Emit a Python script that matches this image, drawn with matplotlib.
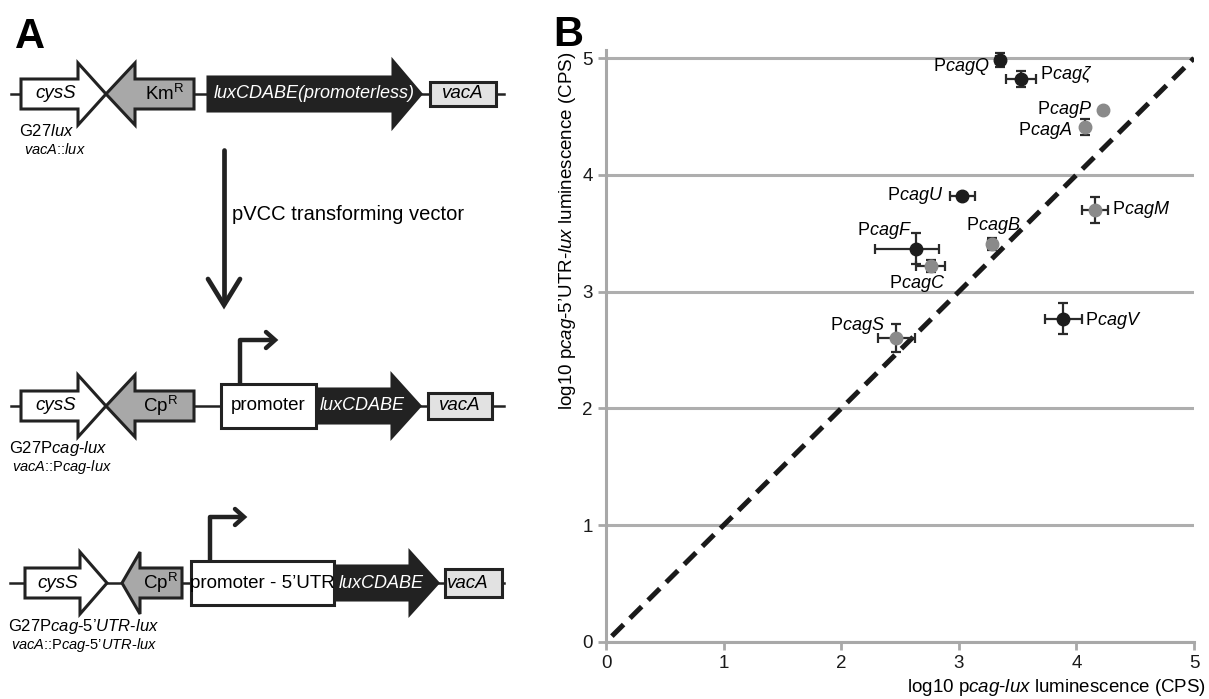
import matplotlib
matplotlib.use("Agg")
import matplotlib.pyplot as plt
from matplotlib.patches import Polygon, Rectangle

plt.rcParams["font.family"] = ["Liberation Sans", "DejaVu Sans"]
plt.rcParams["mathtext.fontset"] = "custom"
plt.rcParams["mathtext.rm"] = "Liberation Sans"
plt.rcParams["mathtext.it"] = "Liberation Sans:italic"
plt.rcParams["mathtext.bf"] = "Liberation Sans:bold"

# Panel B data: log10 luminescence (CPS)
promoters = ["cagQ", "cagζ", "cagP", "cagA", "cagU", "cagM", "cagB", "cagF", "cagC", "cagS", "cagV"]
lux_cps = [3.35, 3.53, 4.23, 4.07, 3.03, 4.16, 3.28, 2.64, 2.76, 2.47, 3.89]
utr_cps = [4.985, 4.82, 4.56, 4.41, 3.82, 3.70, 3.41, 3.37, 3.22, 2.60, 2.77]
lux_err_lo = [0.03, 0.125, 0.0, 0.0, 0.105, 0.11, 0.03, 0.35, 0.12, 0.16, 0.16]
lux_err_hi = [0.03, 0.125, 0.0, 0.0, 0.105, 0.11, 0.03, 0.195, 0.12, 0.16, 0.16]
utr_err = [0.06, 0.07, 0.0, 0.07, 0.02, 0.115, 0.05, 0.13, 0.05, 0.12, 0.13]
group = ["dark", "dark", "light", "light", "dark", "light", "light", "dark", "light", "light", "dark"]
diag = [0.05, 5.0]
ticks = [0, 1, 2, 3, 4, 5]

W, H = 1209, 699
fig = plt.figure(figsize=(W / 100, H / 100), dpi=100)

# ---------------- panel A (schematic, pixel coordinates) ----------------
axa = fig.add_axes([0, 0, 580 / W, 1])
axa.set_xlim(0, 580)
axa.set_ylim(H, 0)
axa.axis("off")

EDGE = "#222222"
LW = 2.2


def right_arrow(x0, xb, xt, yc, color, shaft=15, head=31):
    pts = [(x0, yc - shaft), (xb, yc - shaft), (xb, yc - head), (xt, yc),
           (xb, yc + head), (xb, yc + shaft), (x0, yc + shaft)]
    axa.add_patch(Polygon(pts, closed=True, fc=color, ec=EDGE, lw=LW, joinstyle="miter", zorder=3))


def left_arrow(xt, xb, x1, yc, color, shaft=15, head=31):
    pts = [(x1, yc - shaft), (xb, yc - shaft), (xb, yc - head), (xt, yc),
           (xb, yc + head), (xb, yc + shaft), (x1, yc + shaft)]
    axa.add_patch(Polygon(pts, closed=True, fc=color, ec=EDGE, lw=LW, joinstyle="miter", zorder=3))


def box(x0, x1, yc, half, color):
    axa.add_patch(Rectangle((x0, yc - half), x1 - x0, 2 * half, fc=color, ec=EDGE, lw=LW, zorder=3))


def bent(x, ybox, ytop, x2):
    axa.plot([x, x, x2 - 2], [ybox, ytop, ytop], color=EDGE, lw=3.2, solid_joinstyle="round",
             solid_capstyle="butt", zorder=4)
    axa.plot([x2 - 9, x2, x2 - 9], [ytop - 8, ytop, ytop + 8], color=EDGE, lw=3.2,
             solid_joinstyle="miter", solid_capstyle="round", zorder=4)


GFS = 13.5
LFS = 13
SUB1 = 12
SUB2 = 10.5
# row 1
y1 = 94
axa.plot([11, 504], [y1, y1], color=EDGE, lw=1.8, zorder=1)
right_arrow(21, 78, 106, y1, "white")
left_arrow(106, 135, 194, y1, "#a8a8a8")
right_arrow(208, 393, 421, y1, "#222222", shaft=17, head=33)
box(430, 496, y1, 12, "#e2e2e2")
axa.text(56, y1, "cysS", style="italic", fontsize=GFS, ha="center", va="center", zorder=5)
axa.text(165, y1, r"Km$^{\mathrm{R}}$", fontsize=GFS, ha="center", va="center", zorder=5)
axa.text(314, y1, "luxCDABE(promoterless)", style="italic", color="white", fontsize=LFS,
         ha="center", va="center", zorder=5)
axa.text(463, y1, "vacA", style="italic", fontsize=GFS, ha="center", va="center", zorder=5)
axa.text(19, 131, r"G27$\mathit{lux}$", fontsize=SUB1, ha="left", va="center")
axa.text(24, 149, r"$\mathit{vacA}$::$\mathit{lux}$", fontsize=SUB2, ha="left", va="center")

# transformation arrow
axa.plot([224, 224], [150, 303], color=EDGE, lw=3.4, solid_capstyle="round")
axa.plot([208, 224, 240], [279, 305, 279], color=EDGE, lw=3.4,
         solid_capstyle="round", solid_joinstyle="miter")
axa.text(232, 215, "pVCC transforming vector", fontsize=14.5, ha="left", va="center")

# row 2
y2 = 406
axa.plot([11, 504], [y2, y2], color=EDGE, lw=1.8, zorder=1)
right_arrow(21, 78, 106, y2, "white")
left_arrow(106, 135, 194, y2, "#a8a8a8")
box(221, 316, y2, 22, "white")
bent(240, y2 - 22, 340, 275)
right_arrow(318, 392, 420, y2, "#222222", shaft=17)
box(428, 492, y2, 13, "#e2e2e2")
axa.text(56, y2, "cysS", style="italic", fontsize=GFS, ha="center", va="center", zorder=5)
axa.text(161, y2, r"Cp$^{\mathrm{R}}$", fontsize=GFS, ha="center", va="center", zorder=5)
axa.text(268, y2, "promoter", fontsize=GFS, ha="center", va="center", zorder=5)
axa.text(362, y2, "luxCDABE", style="italic", color="white", fontsize=LFS,
         ha="center", va="center", zorder=5)
axa.text(460, y2, "vacA", style="italic", fontsize=GFS, ha="center", va="center", zorder=5)
axa.text(9, 449, r"G27P$\mathit{cag}$-$\mathit{lux}$", fontsize=SUB1, ha="left", va="center")
axa.text(12, 467, r"$\mathit{vacA}$::P$\mathit{cag}$-$\mathit{lux}$", fontsize=SUB2, ha="left", va="center")

# row 3
y3 = 583
axa.plot([10, 504], [y3, y3], color=EDGE, lw=1.8, zorder=1)
right_arrow(25, 80, 107, y3, "white")
left_arrow(122, 140, 182, y3, "#a8a8a8")
box(191, 334, y3, 22, "white")
bent(210, y3 - 22, 517, 244)
right_arrow(337, 410, 438, y3, "#222222", shaft=17)
box(445, 502, y3, 14, "#e2e2e2")
axa.text(58, y3, "cysS", style="italic", fontsize=GFS, ha="center", va="center", zorder=5)
axa.text(161, y3, r"Cp$^{\mathrm{R}}$", fontsize=GFS, ha="center", va="center", zorder=5)
axa.text(262, y3, "promoter - 5’UTR", fontsize=GFS, ha="center", va="center", zorder=5)
axa.text(381, y3, "luxCDABE", style="italic", color="white", fontsize=LFS,
         ha="center", va="center", zorder=5)
axa.text(447, y3, "vacA", style="italic", fontsize=GFS, ha="left", va="center", zorder=5)
axa.text(8, 626, r"G27P$\mathit{cag}$-$\mathit{5’UTR}$-$\mathit{lux}$", fontsize=SUB1, ha="left", va="center")
axa.text(11, 645, r"$\mathit{vacA}$::P$\mathit{cag}$-$\mathit{5’UTR}$-$\mathit{lux}$", fontsize=SUB2,
         ha="left", va="center")

fig.text(15 / W, 1 - 48 / H, "A", fontsize=30, fontweight="bold", family="Liberation Sans")
fig.text(553 / W, 1 - 46 / H, "B", fontsize=30, fontweight="bold", family="Liberation Sans")

# ---------------- panel B (scatter) ----------------
axb = fig.add_axes([606 / W, (H - 642) / H, (1194 - 606) / W, (642 - 50) / H])
axb.set_xlim(0, 5)
axb.set_ylim(0, 5.07)
axb.set_xticks(ticks)
axb.set_yticks(ticks)
axb.yaxis.grid(True, color="#aeaeae", lw=2.2)
axb.set_axisbelow(True)
for s in ["top", "right"]:
    axb.spines[s].set_visible(False)
for s in ["left", "bottom"]:
    axb.spines[s].set_color("#a8a8a8")
    axb.spines[s].set_linewidth(2.2)
axb.tick_params(axis="both", colors="#a8a8a8", width=2, length=6, labelsize=13.5,
                labelcolor="#1a1a1a", pad=3.5)

axb.plot(diag, diag, color="#1a1a1a", lw=3.6, dashes=(3.3, 1.8), zorder=2)

colors = {"dark": "#1c1c1c", "light": "#8a8a8a"}
for i in range(len(promoters)):
    axb.errorbar(lux_cps[i], utr_cps[i],
                 xerr=[[lux_err_lo[i]], [lux_err_hi[i]]], yerr=[[utr_err[i]], [utr_err[i]]],
                 fmt="none", ecolor="#2a2a2a", elinewidth=1.6, capsize=3.5, capthick=1.6, zorder=3)
    axb.plot(lux_cps[i], utr_cps[i], "o", color=colors[group[i]], ms=9, zorder=4)

# label offsets (dx, dy, ha) relative to each point
offsets = [(-0.09, -0.055, "right"), (0.16, 0.04, "left"), (-0.10, 0.0, "right"),
           (-0.11, -0.03, "right"), (-0.16, 0.0, "right"), (0.14, 0.0, "left"),
           (0.24, 0.16, "right"), (-0.04, 0.15, "right"), (0.125, -0.15, "right"),
           (-0.10, 0.11, "right"), (0.18, -0.02, "left")]
for i, name in enumerate(promoters):
    dx, dy, ha = offsets[i]
    axb.text(lux_cps[i] + dx, utr_cps[i] + dy, "P$\\mathit{" + name + "}$", fontsize=13,
             ha=ha, va="center", zorder=5)

fig.text(1206 / W, 1 - 687 / H, r"log10 p$\mathit{cag}$-$\mathit{lux}$ luminescence (CPS)",
         fontsize=13.5, ha="right", va="center")
fig.text(568 / W, 1 - 231 / H, r"log10 p$\mathit{cag}$-5’UTR-$\mathit{lux}$ luminescence (CPS)",
         fontsize=13.5, ha="center", va="center", rotation=90)

fig.savefig("out.png", dpi=100)
